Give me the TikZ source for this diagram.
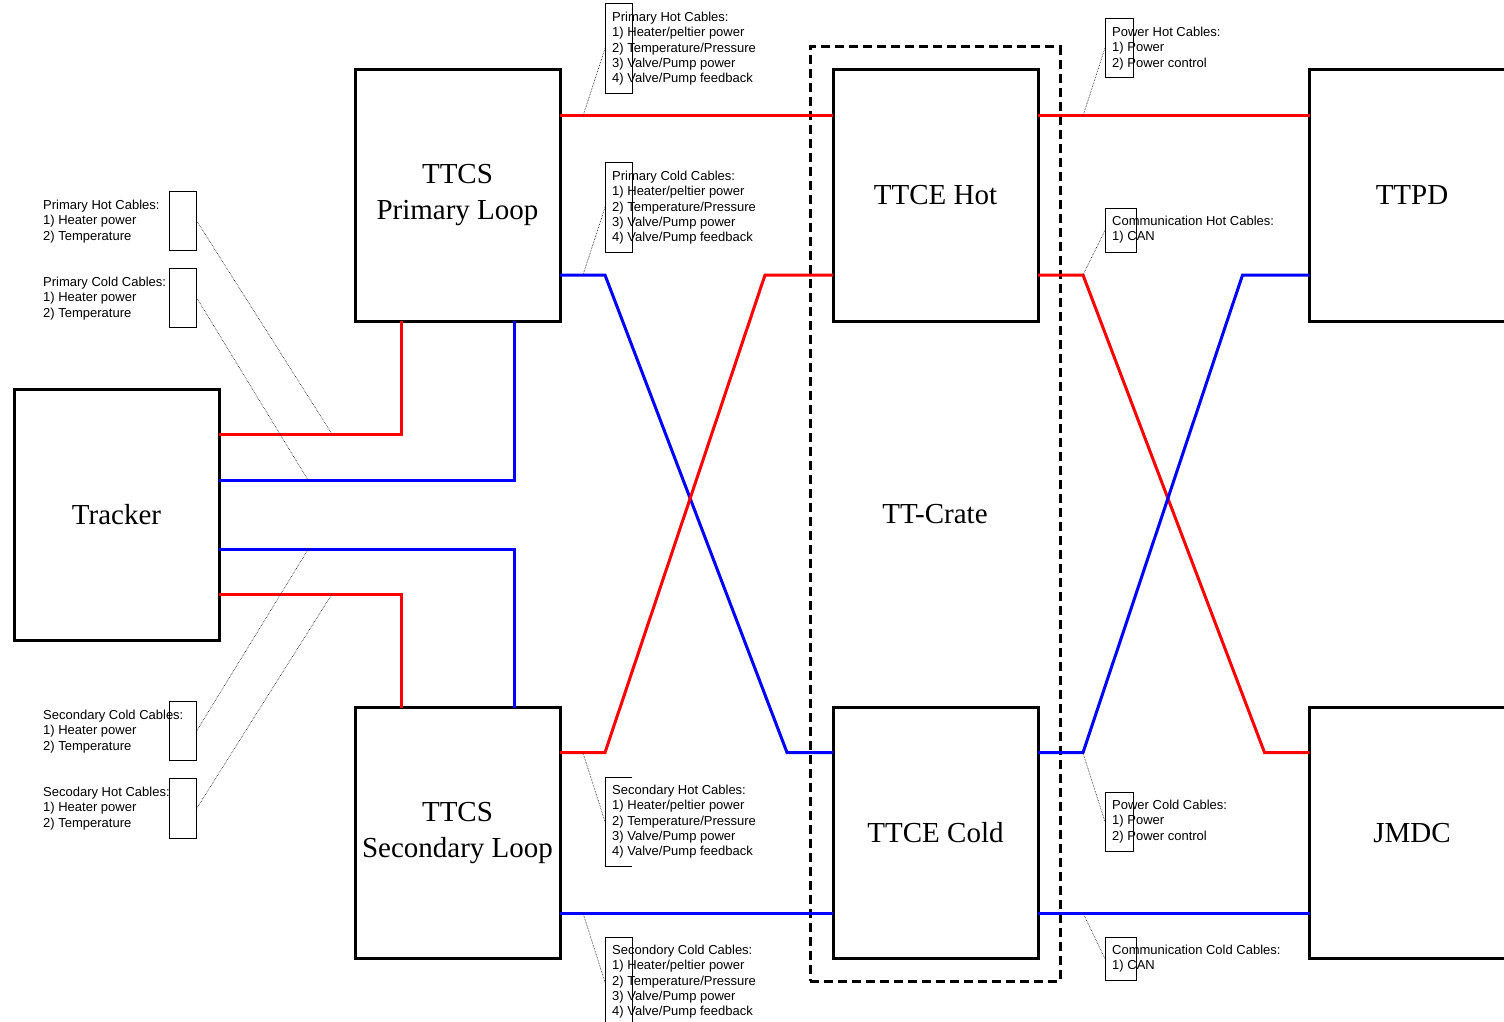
\documentclass[tikz,border=0pt]{standalone}
\usepackage{fontspec}
\setmainfont{Liberation Serif}
\setsansfont{Liberation Sans}
\usetikzlibrary{calc}

\begin{document}
\begin{tikzpicture}[x=1pt, y=-1pt,
    unit/.style={draw, line width=3pt, outer sep=0pt, minimum width=205pt, minimum height=251pt, align=center, font=\fontsize{29}{36}\selectfont},
    hot/.style={draw=red, line width=3pt},
    cold/.style={draw=blue, line width=3pt},
    tag/.style={draw, line width=0.7pt, anchor=north west, minimum width=27pt, inner sep=0pt},
    note/.style={anchor=north west, inner sep=0pt, align=left, font=\sffamily\fontsize{13}{15.3}\selectfont},
    leader/.style={densely dotted, line width=0.6pt}]
    \useasboundingbox (0,0) rectangle (1504,1022);
    \clip (0,0) rectangle (1504,1022);

    % crate
    \node[draw, line width=3pt, outer sep=0pt, dash pattern=on 9pt off 5pt, minimum width=250pt, minimum height=934pt, font=\fontsize{29}{36}\selectfont] (crate) at (935,514) {TT-Crate};

    % units
    \node[unit] (tracker) at (116.5,514.5) {Tracker};
    \node[unit] (ttcsp) at (457.5,195.5) {TTCS\\Primary Loop};
    \node[unit] (ttcss) at (457.5,833) {TTCS\\Secondary Loop};
    \node[unit] (ttceh) at (935.5,195.5) {TTCE Hot};
    \node[unit] (ttcec) at (935.5,833) {TTCE Cold};
    \node[unit] (ttpd) at (1412,195.5) {TTPD};
    \node[unit] (jmdc) at (1412,833) {JMDC};

    % tracker cables
    \draw[hot] ([yshift=-45pt]tracker.north east) -| ([xshift=46pt]ttcsp.south west);
    \draw[cold] ([yshift=-91pt]tracker.north east) -| ([xshift=-46pt]ttcsp.south east);
    \draw[cold] ([yshift=91pt]tracker.south east) -| ([xshift=-46pt]ttcss.north east);
    \draw[hot] ([yshift=46pt]tracker.south east) -| ([xshift=46pt]ttcss.north west);

    % loop to crate
    \draw[hot] ([yshift=-46pt]ttcsp.north east) -- ([yshift=-46pt]ttceh.north west);
    \draw[cold] ([yshift=46pt]ttcsp.south east) -- ++(45,0) -- ([xshift=-46pt,yshift=-45pt]ttcec.north west) -- ([yshift=-45pt]ttcec.north west);
    \draw[hot] ([yshift=-45pt]ttcss.north east) -- ++(45,0) -- ([xshift=-68pt,yshift=46pt]ttceh.south west) -- ([yshift=46pt]ttceh.south west);
    \draw[cold] ([yshift=45pt]ttcss.south east) -- ([yshift=45pt]ttcec.south west);

    % crate to ttpd / jmdc
    \draw[hot] ([yshift=-46pt]ttceh.north east) -- ([yshift=-46pt]ttpd.north west);
    \draw[hot] ([yshift=46pt]ttceh.south east) -- ++(45,0) -- ([xshift=-45pt,yshift=-45pt]jmdc.north west) -- ([yshift=-45pt]jmdc.north west);
    \draw[cold] ([yshift=-45pt]ttcec.north east) -- ++(45,0) -- ([xshift=-67pt,yshift=46pt]ttpd.south west) -- ([yshift=46pt]ttpd.south west);
    \draw[cold] ([yshift=45pt]ttcec.south east) -- ([yshift=45pt]jmdc.south west);

    % left callouts
    \node[tag, minimum height=59pt] (lphtag) at (169,191) {};
    \node[note] (lphnote) at (43,200) {Primary Hot Cables:\\1) Heater power\\2) Temperature};
    \coordinate (lphpin) at (332,434);
    \draw[leader] (lphtag.east) -- (lphpin);
    \node[tag, minimum height=59pt] (lpctag) at (169,268) {};
    \node[note] (lpcnote) at (43,277) {Primary Cold Cables:\\1) Heater power\\2) Temperature};
    \coordinate (lpcpin) at (308,480);
    \draw[leader] (lpctag.east) -- (lpcpin);
    \node[tag, minimum height=59pt] (lsctag) at (169,701) {};
    \node[note] (lscnote) at (43,710) {Secondary Cold Cables:\\1) Heater power\\2) Temperature};
    \coordinate (lscpin) at (309,548);
    \draw[leader] (lsctag.east) -- (lscpin);
    \node[tag, minimum height=60pt] (lshtag) at (169,778) {};
    \node[note] (lshnote) at (43,787) {Secodary Hot Cables:\\1) Heater power\\2) Temperature};
    \coordinate (lshpin) at (332,594);
    \draw[leader] (lshtag.east) -- (lshpin);

    % loop cable callouts
    \node[tag, minimum height=90pt] (phtag) at (605,3) {};
    \node[note] (phnote) at (612,12) {Primary Hot Cables:\\1) Heater/peltier power\\2) Temperature/Pressure\\3) Valve/Pump power\\4) Valve/Pump feedback};
    \coordinate (phpin) at (583,116);
    \draw[leader] (phpin) -- (phtag.west);
    \node[tag, minimum height=90pt] (pctag) at (605,162) {};
    \node[note] (pcnote) at (612,171) {Primary Cold Cables:\\1) Heater/peltier power\\2) Temperature/Pressure\\3) Valve/Pump power\\4) Valve/Pump feedback};
    \coordinate (pcpin) at (583,275);
    \draw[leader] (pcpin) -- (pctag.west);
    \node[anchor=north west, minimum width=27pt, minimum height=89pt, inner sep=0pt] (shtag) at (605,777) {};
    \draw[line width=0.7pt] (shtag.north east) -- (shtag.north west) -- (shtag.south west) -- (shtag.south east);
    \node[note] (shnote) at (612,785) {Secondary Hot Cables:\\1) Heater/peltier power\\2) Temperature/Pressure\\3) Valve/Pump power\\4) Valve/Pump feedback};
    \coordinate (shpin) at (583,753);
    \draw[leader] (shpin) -- (shtag.west);
    \node[tag, minimum height=90pt] (sctag) at (605,937) {};
    \node[note] (scnote) at (612,945) {Secondory Cold Cables:\\1) Heater/peltier power\\2) Temperature/Pressure\\3) Valve/Pump power\\4) Valve/Pump feedback};
    \coordinate (scpin) at (583,913);
    \draw[leader] (scpin) -- (sctag.west);

    % crate cable callouts
    \node[tag, minimum width=28pt, minimum height=59pt] (pwhtag) at (1105,18) {};
    \node[note] (pwhnote) at (1112,27) {Power Hot Cables:\\1) Power\\2) Power control};
    \coordinate (pwhpin) at (1083,116);
    \draw[leader] (pwhpin) -- (pwhtag.west);
    \node[tag, minimum width=31pt, minimum height=44pt] (cmhtag) at (1105,208) {};
    \node[note] (cmhnote) at (1112,216) {Communication Hot Cables:\\1) CAN};
    \coordinate (cmhpin) at (1083,275);
    \draw[leader] (cmhpin) -- (cmhtag.west);
    \node[tag, minimum width=28pt, minimum height=59pt] (pwctag) at (1105,792) {};
    \node[note] (pwcnote) at (1112,800) {Power Cold Cables:\\1) Power\\2) Power control};
    \coordinate (pwcpin) at (1083,753);
    \draw[leader] (pwcpin) -- (pwctag.west);
    \node[tag, minimum width=31pt, minimum height=43pt] (cmctag) at (1105,937) {};
    \node[note] (cmcnote) at (1112,945) {Communication Cold Cables:\\1) CAN};
    \coordinate (cmcpin) at (1083,913);
    \draw[leader] (cmcpin) -- (cmctag.west);
\end{tikzpicture}
\end{document}
